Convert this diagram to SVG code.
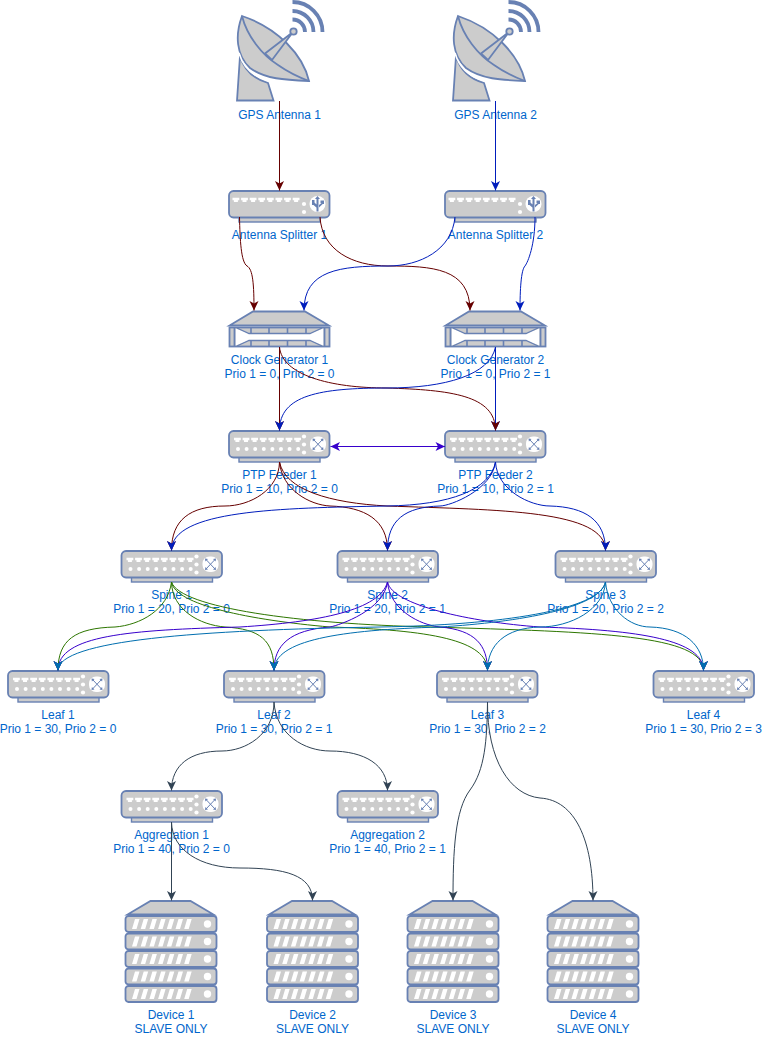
<svg xmlns="http://www.w3.org/2000/svg" width="762" height="1037" viewBox="0 0 762 1037">
<style>
text{font-family:"Liberation Sans",Arial,Helvetica,sans-serif;font-size:12px;fill:#0066CC;text-anchor:middle}
.b{fill:#CCCCCC;stroke:#6881B3;stroke-width:1.800}
.w{fill:#FFFFFF;stroke:none}
.s{fill:none;stroke:#6881B3;stroke-width:1}
.e{fill:none;stroke-width:1}
.r{stroke:#660000;marker-end:url(#mr)}.u{stroke:#001DBC;marker-end:url(#mu)}.p{stroke:#3700CC;marker-end:url(#mp)}.g{stroke:#2D7600;marker-end:url(#mg)}.t{stroke:#006EAF;marker-end:url(#mt)}.d{stroke:#314354;marker-end:url(#md)}
.both{marker-start:url(#mps)}
</style>
<defs>
<marker id="mr" markerUnits="userSpaceOnUse" viewBox="-11 -6 12 12" refX="0" refY="0" markerWidth="12" markerHeight="12" orient="auto"><path d="M-9.500-4.500L0 0-9.500 4.500-7 0Z" fill="#660000"/></marker>
<marker id="mu" markerUnits="userSpaceOnUse" viewBox="-11 -6 12 12" refX="0" refY="0" markerWidth="12" markerHeight="12" orient="auto"><path d="M-9.500-4.500L0 0-9.500 4.500-7 0Z" fill="#001DBC"/></marker>
<marker id="mp" markerUnits="userSpaceOnUse" viewBox="-11 -6 12 12" refX="0" refY="0" markerWidth="12" markerHeight="12" orient="auto"><path d="M-9.500-4.500L0 0-9.500 4.500-7 0Z" fill="#3700CC"/></marker>
<marker id="mps" markerUnits="userSpaceOnUse" viewBox="-11 -6 12 12" refX="0" refY="0" markerWidth="12" markerHeight="12" orient="auto-start-reverse"><path d="M-9.500-4.500L0 0-9.500 4.500-7 0Z" fill="#3700CC"/></marker>
<marker id="mg" markerUnits="userSpaceOnUse" viewBox="-11 -6 12 12" refX="0" refY="0" markerWidth="12" markerHeight="12" orient="auto"><path d="M-9.500-4.500L0 0-9.500 4.500-7 0Z" fill="#2D7600"/></marker>
<marker id="mt" markerUnits="userSpaceOnUse" viewBox="-11 -6 12 12" refX="0" refY="0" markerWidth="12" markerHeight="12" orient="auto"><path d="M-9.500-4.500L0 0-9.500 4.500-7 0Z" fill="#006EAF"/></marker>
<marker id="md" markerUnits="userSpaceOnUse" viewBox="-11 -6 12 12" refX="0" refY="0" markerWidth="12" markerHeight="12" orient="auto"><path d="M-9.500-4.500L0 0-9.500 4.500-7 0Z" fill="#314354"/></marker>
<g id="port"><path class="w" d="M0 0h6.800v2.500h-1.400v1.700h-4v-1.700h-1.400z"/></g>
<g id="ports">
<use href="#port" x="0"/><use href="#port" x="8.600"/><use href="#port" x="17.200"/><use href="#port" x="25.800"/><use href="#port" x="34.400"/><use href="#port" x="43"/><use href="#port" x="51.600"/><use href="#port" x="60.200"/>
</g>
<g id="case">
<rect class="b" x="10" y="26" width="81" height="5" style="stroke-width:1.400"/>
<rect class="b" x="0" y="0" width="100.500" height="26.500" rx="4.500"/>
</g>
<g id="switch">
<use href="#case"/>
<use href="#ports" x="5" y="6.800"/>
<g class="w"><circle cx="9" cy="18" r="2"/><circle cx="17.600" cy="18" r="2"/><circle cx="26.200" cy="18" r="2"/><circle cx="34.800" cy="18" r="2"/><circle cx="43.400" cy="18" r="2"/><circle cx="52" cy="18" r="2"/><circle cx="60.600" cy="18" r="2"/><circle cx="69.200" cy="18" r="2"/><circle cx="75" cy="5.500" r="2.100"/><circle cx="75" cy="13.500" r="2.100"/><circle cx="75" cy="21.500" r="2.100"/></g>
<rect class="w" x="81" y="5.500" width="16" height="15.500" rx="7"/>
<path class="s" d="M84.500 8.500L93.500 18M93.500 8.500L84.500 18"/>
<path fill="#6881B3" d="M83.500 7.500l3 .4-2.600 2.600zM94.500 7.500l-3 .4 2.600 2.600zM83.500 19l3-.4-2.600-2.600zM94.500 19l-3-.4 2.600-2.600z"/>
</g>
<g id="splitter">
<use href="#case"/>
<use href="#ports" x="3.500" y="6.800"/>
<circle class="w" cx="75" cy="13" r="2.100"/><circle class="w" cx="75" cy="21" r="2.100"/>
<circle class="w" cx="88.500" cy="13" r="8"/>
<path fill="#6881B3" d="M87.500 7h2v13.500h-2zM88.500 5l2.500 3h-5zM83 9h2.500v2.500l3 3v3l-4-3.500h-1.500zM91.500 9.500h3.500v3.500h-1.300l-3.700 3.500v-2.500l2.500-2h-1z"/>
</g>
<g id="clock">
<path class="b" d="M24 0.500H76L100 14.500H0.500Z"/>
<rect class="b" x="0.500" y="16.500" width="100" height="19"/>
<path class="w" d="M6.500 17.500L20 22.500H81L94.500 17.500V34.500L81 29.500H20L6.500 34.500Z"/>
<path d="M5.500 16.500V35.500M95.500 16.500V35.500" fill="none" stroke="#6881B3" stroke-width="1.800"/>
<path d="M8 17L20 22.500H81L93 17M8 35L20 29.500H81L93 35" fill="none" stroke="#6881B3" stroke-width="1.300"/>
<path d="M22 17V22.500M40 17V22.500M58.500 17V22.500M77 17V22.500M22 35V29.500M40 35V29.500M58.500 35V29.500M77 35V29.500" fill="none" stroke="#6881B3" stroke-width="1.600"/>
</g>
<g id="slab">
<rect class="b" x="0" y="0" width="91" height="16" rx="3"/>
<path class="w" d="M6.500 13L9.500 3h4.500L11 13zM15.200 13L18.200 3h4.500L19.700 13zM23.900 13L26.900 3h4.500L28.400 13zM32.600 13L35.600 3h4.500L37.100 13zM41.300 13L44.300 3h4.500L45.800 13zM50 13L53 3h4.500L54.500 13zM58.700 13L61.700 3h4.500L63.200 13z"/>
<circle class="w" cx="82" cy="8" r="3.700"/>
</g>
<g id="device">
<path class="b" d="M25 0H65L88 13.500H2Z"/>
<use href="#slab" y="15"/><use href="#slab" y="32.500"/><use href="#slab" y="50"/><use href="#slab" y="67.500"/><use href="#slab" y="85"/>
</g>
<g id="antenna">
<path class="b" d="M237 100.500L240 56C244 70 254 79 268 83L273.500 100.500Z"/>
<path class="b" d="M242 16C235 35 236 55 250 68C265 79 285 80 309 81C303 55 278 28 242 16Z"/>
<path d="M239 53C243 67 253 76 266 80" fill="none" stroke="#FFFFFF" stroke-width="1.600"/>
<path d="M242 16C247 36 262 55 278 65C288 72 298 77 309 81" fill="none" stroke="#6881B3" stroke-width="1.800"/>
<path class="b" d="M265 53.500L293 32L272 60Z"/>
<circle class="b" cx="293.500" cy="31.500" r="3.200"/>
<path d="M292.500 2A30 30 0 0 1 322.500 32M292.500 11A21 21 0 0 1 313.500 32M292.500 19.500A12.500 12.500 0 0 1 305 32" fill="none" stroke="#6881B3" stroke-width="3.800"/>
</g>
</defs>

<g id="gps1"><use href="#antenna"/><text x="279.500" y="119">GPS Antenna 1</text></g>
<g id="gps2"><use href="#antenna" x="216"/><text x="495.500" y="119">GPS Antenna 2</text></g>
<g id="splitter1"><use href="#splitter" x="229" y="191"/><text x="279.500" y="239">Antenna Splitter 1</text></g>
<g id="splitter2"><use href="#splitter" x="445" y="191"/><text x="495.500" y="239">Antenna Splitter 2</text></g>
<g id="clock1"><use href="#clock" x="229" y="311"/><text x="279.500" y="364">Clock Generator 1</text><text x="279.500" y="378">Prio 1 = 0, Prio 2 = 0</text></g>
<g id="clock2"><use href="#clock" x="445" y="311"/><text x="495.500" y="364">Clock Generator 2</text><text x="495.500" y="378">Prio 1 = 0, Prio 2 = 1</text></g>
<g id="ptp1"><use href="#switch" x="229" y="431"/><text x="279.500" y="479">PTP Feeder 1</text><text x="279.500" y="493">Prio 1 = 10, Prio 2 = 0</text></g>
<g id="ptp2"><use href="#switch" x="445" y="431"/><text x="495.500" y="479">PTP Feeder 2</text><text x="495.500" y="493">Prio 1 = 10, Prio 2 = 1</text></g>
<g id="spine1"><use href="#switch" x="121.500" y="551"/><text x="171.500" y="599">Spine 1</text><text x="171.500" y="613">Prio 1 = 20, Prio 2 = 0</text></g>
<g id="spine2"><use href="#switch" x="337.500" y="551"/><text x="387.500" y="599">Spine 2</text><text x="387.500" y="613">Prio 1 = 20, Prio 2 = 1</text></g>
<g id="spine3"><use href="#switch" x="555.500" y="551"/><text x="605.500" y="599">Spine 3</text><text x="605.500" y="613">Prio 1 = 20, Prio 2 = 2</text></g>
<g id="leaf1"><use href="#switch" x="8" y="671"/><text x="58" y="719">Leaf 1</text><text x="58" y="733">Prio 1 = 30, Prio 2 = 0</text></g>
<g id="leaf2"><use href="#switch" x="224" y="671"/><text x="274" y="719">Leaf 2</text><text x="274" y="733">Prio 1 = 30, Prio 2 = 1</text></g>
<g id="leaf3"><use href="#switch" x="437" y="671"/><text x="487.500" y="719">Leaf 3</text><text x="487.500" y="733">Prio 1 = 30, Prio 2 = 2</text></g>
<g id="leaf4"><use href="#switch" x="653.500" y="671"/><text x="703.500" y="719">Leaf 4</text><text x="703.500" y="733">Prio 1 = 30, Prio 2 = 3</text></g>
<g id="agg1"><use href="#switch" x="121.500" y="791"/><text x="171.500" y="839">Aggregation 1</text><text x="171.500" y="853">Prio 1 = 40, Prio 2 = 0</text></g>
<g id="agg2"><use href="#switch" x="337.500" y="791"/><text x="387.500" y="839">Aggregation 2</text><text x="387.500" y="853">Prio 1 = 40, Prio 2 = 1</text></g>
<g id="device1"><use href="#device" x="125.500" y="901"/><text x="171" y="1019">Device 1</text><text x="171" y="1033">SLAVE ONLY</text></g>
<g id="device2"><use href="#device" x="267" y="901"/><text x="312.500" y="1019">Device 2</text><text x="312.500" y="1033">SLAVE ONLY</text></g>
<g id="device3"><use href="#device" x="407.500" y="901"/><text x="453" y="1019">Device 3</text><text x="453" y="1033">SLAVE ONLY</text></g>
<g id="device4"><use href="#device" x="547.500" y="901"/><text x="593" y="1019">Device 4</text><text x="593" y="1033">SLAVE ONLY</text></g>

<g id="connectors">
<path class="e r" d="M279.500 101V190.500"/>
<path class="e u" d="M495.500 101V190.500"/>
<path class="e r" d="M239.500 217C240 240 241 262 247 266C253 269 254 285 254 310.500"/>
<path class="e r" d="M320 217C322 250 352 266 388 266C432 266 470 268 470 310.500"/>
<path class="e u" d="M455 217C452 250 420 266 388 266C340 266 304 270 304 310.500"/>
<path class="e u" d="M535 217C535 245 528 262 525 266C521 270 520 290 520 310.500"/>
<path class="e r" d="M279.500 347V430.500"/>
<path class="e u" d="M495.500 347V430.500"/>
<path class="e r" d="M279.500 347C282 375 330 388 387 388C450 390 495.500 395 495.500 430.500"/>
<path class="e u" d="M495.500 347C490 375 445 388 387 388C320 388 279.500 395 279.500 430.500"/>
<path class="e p both" d="M330.500 446.500H445"/>
<path class="e r" d="M279.500 462C279 490 250 506 225 506C190 506 171.500 520 171.500 550.500"/>
<path class="e r" d="M279.500 462C282 490 310 505 330 506C365 507 387.500 520 387.500 550.500"/>
<path class="e r" d="M279.500 462C285 490 330 503 387 506C500 510 605.500 510 605.500 550.500"/>
<path class="e u" d="M495.500 462C490 490 450 505 387 506C280 508 171.500 510 171.500 550.500"/>
<path class="e u" d="M495.500 462C492 490 450 506 440 506C405 507 387.500 520 387.500 550.500"/>
<path class="e u" d="M495.500 462C497 490 530 506 550 506C585 507 605.500 520 605.500 550.500"/>
<path class="e g" d="M171.500 582C168 610 140 625 115 627C75 628 58 640 58 670.500"/>
<path class="e g" d="M171.500 582C172 610 200 625 225 627C260 629 274 640 274 670.500"/>
<path class="e g" d="M171.500 582C175 605 250 620 330 627C430 630 487.500 640 487.500 670.500"/>
<path class="e g" d="M171.500 582C180 608 300 624 430 627C600 632 703.500 635 703.500 670.500"/>
<path class="e p" d="M387.500 582C380 610 320 622 240 627C130 630 58 635 58 670.500"/>
<path class="e p" d="M387.500 582C384 610 340 625 330 627C290 630 274 645 274 670.500"/>
<path class="e p" d="M387.500 582C390 610 420 625 440 627C475 630 487.500 645 487.500 670.500"/>
<path class="e p" d="M387.500 582C392 605 470 622 540 627C640 630 703.500 640 703.500 670.500"/>
<path class="e t" d="M605.500 582C600 610 500 625 380 627C200 630 58 640 58 670.500"/>
<path class="e t" d="M605.500 582C600 608 520 622 440 627C340 630 274 640 274 670.500"/>
<path class="e t" d="M605.500 582C604 610 570 627 540 627C505 628 487.500 645 487.500 670.500"/>
<path class="e t" d="M605.500 582C608 610 630 627 650 627C685 628 703.500 645 703.500 670.500"/>
<path class="e d" d="M274 702C274 735 245 751 222 751C190 751 171.500 765 171.500 790.500"/>
<path class="e d" d="M274 702C276 735 305 751 330 751C365 751 387.500 765 387.500 790.500"/>
<path class="e d" d="M487.500 702C487 740 485 770 470 790C455 810 453 850 453 900.500"/>
<path class="e d" d="M487.500 702C487 760 510 795 540 798C575 800 593 840 593 900.500"/>
<path class="e d" d="M171.500 822V900.500"/>
<path class="e d" d="M171.500 822C172 850 200 868 240 868C285 868 312.500 875 312.500 900.500"/>
</g>
</svg>
